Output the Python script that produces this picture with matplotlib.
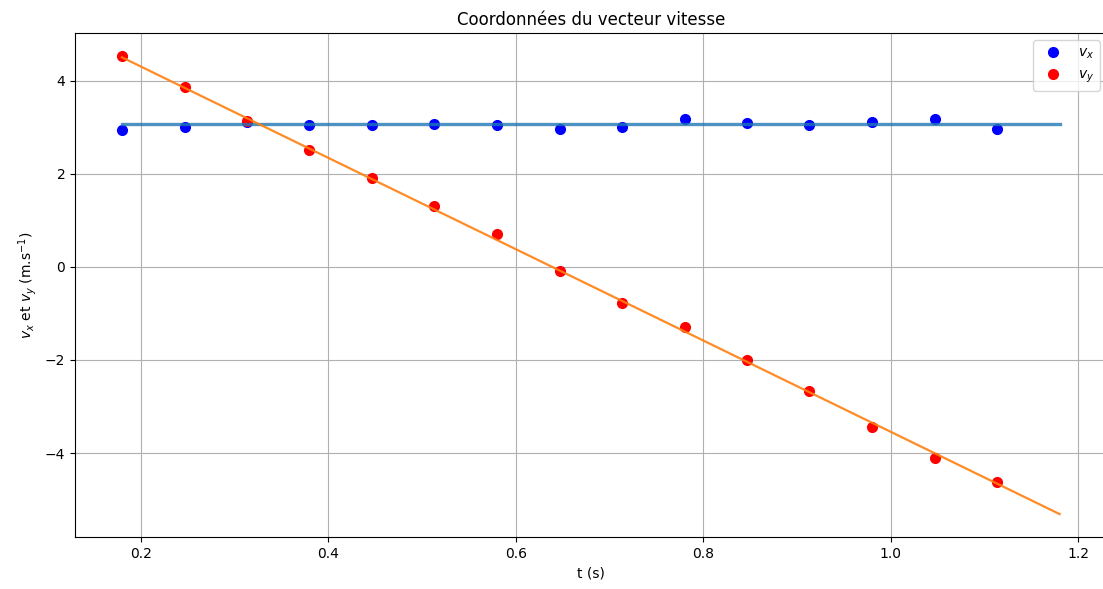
import matplotlib
matplotlib.use("Agg")
import matplotlib.pyplot as plt
import numpy as np

# time of each measured point (s)
t = [0.180, 0.247, 0.313, 0.380, 0.447, 0.513, 0.580, 0.647,
     0.713, 0.780, 0.847, 0.913, 0.980, 1.047, 1.113]

# measured velocity components (m/s)
vx = [2.94, 3.01, 3.10, 3.04, 3.04, 3.07, 3.04, 2.97,
      3.01, 3.18, 3.08, 3.04, 3.11, 3.18, 2.97]
vy = [4.53, 3.86, 3.13, 2.51, 1.90, 1.30, 0.70, -0.10,
      -0.77, -1.30, -1.99, -2.67, -3.43, -4.10, -4.63]

# modelled lines (endpoints)
t_model = [0.18, 1.18]
vx_model = [3.06, 3.06]
vy_model = [4.50, -5.31]

W, H = 1103, 589
fig = plt.figure(figsize=(W / 100, H / 100), dpi=100)
# axes run a bit past the right edge of the picture (cropped like the original)
ax = fig.add_axes([75 / W, 1 - 537 / H, 1031.5 / W, (537 - 33) / H])

ax.plot(t, vx, 'o', color='blue', markersize=7, label='$v_x$')
ax.plot(t, vy, 'o', color='red', markersize=7, label='$v_y$')
ax.plot(t_model, vx_model, color='C0', linewidth=2.4, alpha=0.8)
ax.plot(t_model, vy_model, color='C1', linewidth=1.6, alpha=0.9)

ax.set_title("Coordonnées du vecteur vitesse")
ax.set_xlabel("t (s)")
ax.set_ylabel("$v_x$ et $v_y$ (m.s$^{-1}$)")
ax.grid(True)
ax.spines['right'].set_visible(False)  # cut off in the original picture
ax.legend(loc='upper right')

fig.savefig("out.png")
